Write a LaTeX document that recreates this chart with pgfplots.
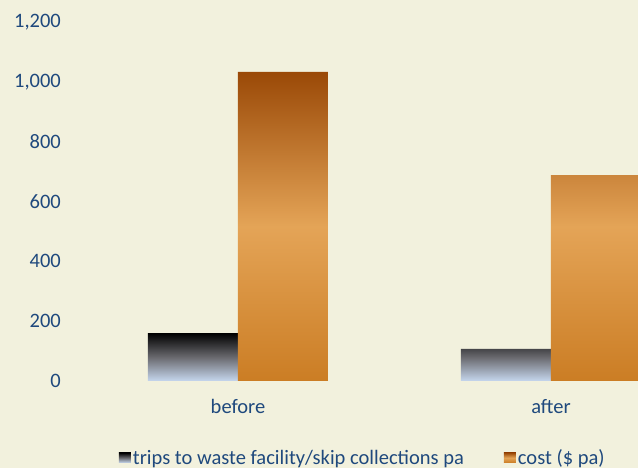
\documentclass[border=0pt]{standalone}
\usepackage{fontspec}
\setmainfont{Carlito}
\usepackage{pgfplots}
\pgfplotsset{compat=1.18}

\definecolor{bgcream}{RGB}{242,241,221}
\definecolor{txtblue}{RGB}{31,73,125}
\definecolor{costtop}{RGB}{154,73,7}
\definecolor{costmid}{RGB}{228,164,87}
\definecolor{costbot}{RGB}{203,125,36}
\definecolor{tripmid}{RGB}{105,105,110}
\definecolor{tripbot}{RGB}{198,215,238}

\newcommand{\chartfont}{\fontsize{20.5bp}{24bp}\selectfont}

\begin{document}
\begin{tikzpicture}
\fill[bgcream] (0,0) rectangle (638bp,468bp);
\useasboundingbox (0,0) rectangle (638bp,468bp);
\begin{axis}[
    at={(82bp,87bp)}, anchor=south west,
    scale only axis,
    width=556bp, height=359bp,
    ybar=0pt, bar width=90bp,
    xmin=-0.4984, xmax=1.278,
    ymin=0, ymax=1200,
    xtick={0,1}, xticklabels={before,after},
    ytick={0,200,...,1200},
    axis line style={draw=none},
    major tick length=0pt,
    /pgf/number format/assume math mode=true,
    /pgf/number format/1000 sep={,},
    every tick label/.append style={font=\chartfont, text=txtblue, inner sep=0pt},
    yticklabel style={anchor=east, xshift=-21bp},
    xticklabel style={anchor=north, yshift=-18bp},
    legend columns=2,
    legend style={at={(0.505,-0.214)}, anchor=center, draw=none, fill=none,
        font=\chartfont, text=txtblue,
        /tikz/every even column/.append style={column sep=38bp}},
    legend image code/.code={\fill[#1,draw=none] (0bp,-5bp) rectangle (12bp,5bp);},
]
\addplot[draw=none, top color=black, bottom color=tripbot, middle color=tripmid]
    coordinates {(0,160) (1,107)};
\addlegendentry{trips to waste facility/skip collections pa}
\addplot[draw=none, top color=costtop, bottom color=costbot, middle color=costmid]
    coordinates {(0,1033) (1,688)};
\addlegendentry{cost (\$ pa)}
\end{axis}
\end{tikzpicture}
\end{document}
